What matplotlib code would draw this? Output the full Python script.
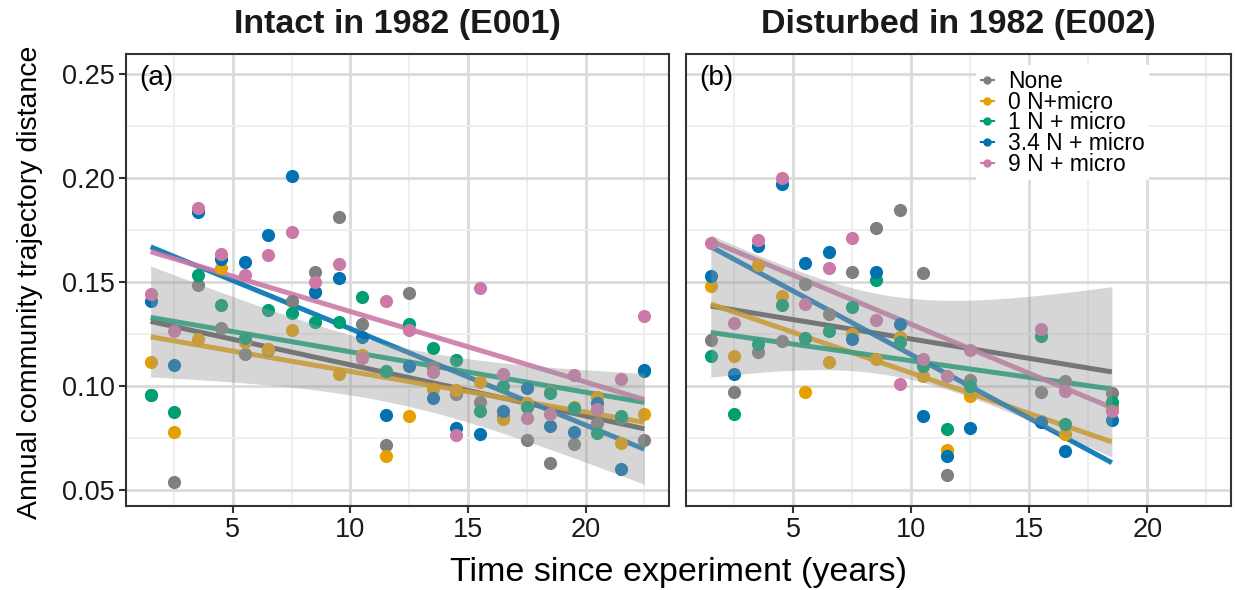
import numpy as np
import matplotlib
matplotlib.use("Agg")
import matplotlib.pyplot as plt
from matplotlib.lines import Line2D

plt.rcParams['font.family'] = ['Liberation Sans', 'DejaVu Sans']

# treatments and colours
treatments = ["None", "0 N+micro", "1 N + micro", "3.4 N + micro", "9 N + micro"]
point_colors = ["#7f7f7f", "#E69F00", "#009E73", "#0072B2", "#CC79A7"]
line_colors = ["#4d4d4d", "#E69F00", "#009E73", "#0072B2", "#CC79A7"]

# (a) intact in 1982, E001
years_a = [1.5, 2.5, 3.5, 4.5, 5.5, 6.5, 7.5, 8.5, 9.5, 10.5, 11.5,
           12.5, 13.5, 14.5, 15.5, 16.5, 17.5, 18.5, 19.5, 20.5, 21.5, 22.5]
none_a = [0.0957, 0.054, 0.1486, 0.128, 0.1154, 0.1175, 0.141, 0.155, 0.181, 0.1298, 0.0716,
          0.1447, 0.109, 0.096, 0.0922, 0.0855, 0.074, 0.063, 0.0721, 0.0822, 0.0845, 0.0742]
n0_a = [0.1117, 0.078, 0.1226, 0.1566, 0.121, 0.118, 0.1269, 0.1453, 0.1058, 0.115, 0.0662,
        0.0855, 0.0986, 0.098, 0.1018, 0.0841, 0.092, 0.097, 0.090, 0.0946, 0.0726, 0.0864]
n1_a = [0.0955, 0.0875, 0.1534, 0.139, 0.123, 0.1367, 0.1351, 0.1306, 0.1307, 0.1426, 0.1074,
        0.1298, 0.1183, 0.1123, 0.0881, 0.1002, 0.0898, 0.0965, 0.0893, 0.0774, 0.0857, 0.107]
n34_a = [0.141, 0.110, 0.1835, 0.161, 0.1595, 0.1726, 0.2011, 0.145, 0.1518, 0.1234, 0.086,
         0.1098, 0.0944, 0.080, 0.0768, 0.0881, 0.0989, 0.0809, 0.0777, 0.092, 0.060, 0.1078]
n9_a = [0.1442, 0.1266, 0.1854, 0.1635, 0.1534, 0.163, 0.1742, 0.150, 0.1587, 0.1133, 0.141,
        0.1271, 0.1066, 0.0764, 0.147, 0.1058, 0.0845, 0.0865, 0.1053, 0.0887, 0.1034, 0.1335]

# (b) disturbed in 1982, E002
years_b = [1.5, 2.5, 3.5, 4.5, 5.5, 6.5, 7.5, 8.5, 9.5, 10.5, 11.5, 12.5, 15.5, 16.5, 18.5]
none_b = [0.1223, 0.0973, 0.1162, 0.1218, 0.149, 0.1346, 0.155, 0.176, 0.1846, 0.1543, 0.0572,
          0.103, 0.0973, 0.1026, 0.0965]
n0_b = [0.148, 0.1146, 0.1582, 0.1434, 0.0973, 0.1117, 0.125, 0.113, 0.1234, 0.105, 0.0694,
        0.095, 0.0834, 0.0769, 0.09]
n1_b = [0.1143, 0.0865, 0.1202, 0.139, 0.1229, 0.1266, 0.1378, 0.1511, 0.121, 0.1098, 0.0793,
        0.100, 0.1242, 0.0817, 0.0924]
n34_b = [0.1527, 0.1056, 0.1672, 0.1971, 0.159, 0.1646, 0.1226, 0.155, 0.1298, 0.0855, 0.0665,
         0.0796, 0.0826, 0.0689, 0.0837]
n9_b = [0.1686, 0.1303, 0.1702, 0.200, 0.1394, 0.1566, 0.171, 0.1317, 0.101, 0.113, 0.105,
        0.1175, 0.1274, 0.0978, 0.0881]

panels = [
    ("Intact in 1982 (E001)", "(a)", years_a, [none_a, n0_a, n1_a, n34_a, n9_a]),
    ("Disturbed in 1982 (E002)", "(b)", years_b, [none_b, n0_b, n1_b, n34_b, n9_b]),
]

# t quantiles (0.975) for the confidence band of the lm fit
T975 = {13: 2.160, 20: 2.086}

W, H = 1235, 590
fig = plt.figure(figsize=(W / 100, H / 100), dpi=100)
ax_boxes = [[126 / W, 84 / H, 543 / W, 452 / H], [686 / W, 84 / H, 545 / W, 452 / H]]

for i, (title, tag, years, series) in enumerate(panels):
    ax = fig.add_axes(ax_boxes[i])
    x = np.array(years)
    for j, vals in enumerate(series):
        y = np.array(vals)
        ax.scatter(x, y, s=90, color=point_colors[j], linewidths=0, zorder=3)
        b, a = np.polyfit(x, y, 1)
        xg = np.linspace(x.min(), x.max(), 100)
        yg = a + b * xg
        ax.plot(xg, yg, color=line_colors[j], lw=3.6, alpha=0.9, zorder=2,
                solid_capstyle='butt')
        if j == 0:
            n = len(x)
            resid = y - (a + b * x)
            s = np.sqrt(np.sum(resid ** 2) / (n - 2))
            sxx = np.sum((x - x.mean()) ** 2)
            se = s * np.sqrt(1 / n + (xg - x.mean()) ** 2 / sxx)
            t = T975[n - 2]
            ax.fill_between(xg, yg - t * se, yg + t * se, color="#999999", alpha=0.4,
                            linewidth=0, zorder=4)

    ax.set_xlim(0.45, 23.55)
    ax.set_ylim(0.0423, 0.2596)
    ax.set_xticks([5, 10, 15, 20])
    ax.set_xticks([2.5, 7.5, 12.5, 17.5, 22.5], minor=True)
    ax.set_yticks([0.05, 0.10, 0.15, 0.20, 0.25])
    ax.set_yticks([0.075, 0.125, 0.175, 0.225], minor=True)
    ax.set_axisbelow(True)
    ax.grid(which='major', color='#dadada', lw=2.0)
    ax.grid(which='minor', color='#efefef', lw=1.4)
    for sp in ax.spines.values():
        sp.set_color('#333333')
        sp.set_linewidth(1.5)
    ax.tick_params(which='major', length=5, width=1.5, color='#333333',
                   labelsize=19.5, labelcolor='#1a1a1a', pad=3)
    ax.tick_params(which='minor', length=0)
    if i == 0:
        ax.set_yticklabels(["0.05", "0.10", "0.15", "0.20", "0.25"])
    else:
        ax.tick_params(axis='y', which='both', length=0, labelleft=False)

    ax.text(0.024, 0.947, tag, transform=ax.transAxes, fontsize=20, ha='left', va='center',
            color='black')
    cx = ax_boxes[i][0] + ax_boxes[i][2] / 2
    fig.text(cx, 1 - 25 / H, title, fontsize=24.5, fontweight='bold', ha='center',
             va='center', color='#1a1a1a')

    if i == 1:
        handles = [Line2D([0], [0], color=point_colors[k], marker='o', markersize=5, lw=1.5)
                   for k in range(len(treatments))]
        leg = ax.legend(handles, treatments, loc='upper left', bbox_to_anchor=(0.532, 0.975),
                        fontsize=16.5, frameon=True, framealpha=1, edgecolor='none',
                        facecolor='white', handlelength=0.6, handletextpad=0.6,
                        labelspacing=-0.1, borderpad=0.2, borderaxespad=0, fancybox=False)
        leg.set_zorder(10)

fig.text((126 + 1231) / 2 / W, 1 - 572 / H, "Time since experiment (years)", fontsize=24.5,
         ha='center', va='center')
fig.text(30 / W, 1 - 282 / H, "Annual community trajectory distance", fontsize=20.5,
         rotation=90, ha='center', va='center')

fig.savefig("out.png", dpi=100)
